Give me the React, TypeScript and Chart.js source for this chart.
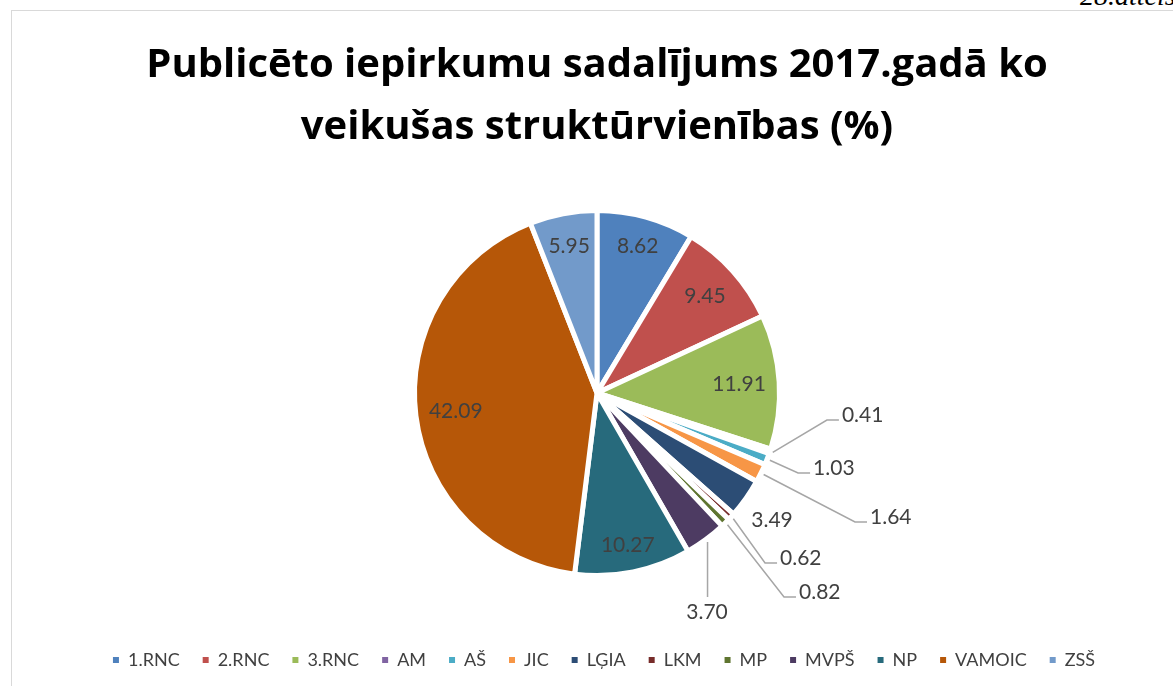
import React, { useEffect, useRef } from 'react';
import { Chart, registerables } from 'chart.js';

Chart.register(...registerables);

// ---- data ----
const categories = ['1.RNC', '2.RNC', '3.RNC', 'AM', 'AŠ', 'JIC', 'LĢIA', 'LKM', 'MP', 'MVPŠ', 'NP', 'VAMOIC', 'ZSŠ'];
const shares = [8.62, 9.45, 11.91, 0.41, 1.03, 1.64, 3.49, 0.62, 0.82, 3.7, 10.27, 42.09, 5.95];
const sliceColors = [
  '#4F81BD', '#C0504D', '#9BBB59', '#8064A2', '#4BACC6', '#F79646', '#2C4D75',
  '#772C2A', '#5F7530', '#4D3B62', '#276A7C', '#B65708', '#729ACA',
];
const titleLines = ['Publicēto iepirkumu sadalījums 2017.gadā ko', 'veikušas struktūrvienības (%)'];
const captionText = '28.attēls';

// ---- label layout (relative to each slice / pie radius) ----
type LabelLayout =
  | { mode: 'in'; f: number }
  | { mode: 'out'; dx: number; dy: number; align: CanvasTextAlign; leader: 'elbow' | 'vertical' | 'none' };

const labelLayout: LabelLayout[] = [
  { mode: 'in', f: 0.833 },
  { mode: 'in', f: 0.795 },
  { mode: 'in', f: 0.78 },
  { mode: 'out', dx: 1.342, dy: 0.121, align: 'left', leader: 'elbow' },
  { mode: 'out', dx: 1.184, dy: 0.411, align: 'left', leader: 'elbow' },
  { mode: 'out', dx: 1.496, dy: 0.679, align: 'left', leader: 'elbow' },
  { mode: 'out', dx: 0.959, dy: 0.696, align: 'center', leader: 'none' },
  { mode: 'out', dx: 1.003, dy: 0.904, align: 'left', leader: 'elbow' },
  { mode: 'out', dx: 1.107, dy: 1.09, align: 'left', leader: 'elbow' },
  { mode: 'out', dx: 0.603, dy: 1.2, align: 'center', leader: 'vertical' },
  { mode: 'in', f: 0.85 },
  { mode: 'in', f: 0.78 },
  { mode: 'in', f: 0.82 },
];

const sliceLabelsPlugin = {
  id: 'sliceLabels',
  afterDatasetsDraw(chart: any) {
    const ctx = chart.ctx as CanvasRenderingContext2D;
    const meta = chart.getDatasetMeta(0);
    const ds = chart.data.datasets[0];
    ctx.save();
    ctx.font = '21px Lato';
    ctx.fillStyle = '#404040';
    ctx.textBaseline = 'middle';
    meta.data.forEach((arc: any, i: number) => {
      const { x, y, startAngle, endAngle, outerRadius } = arc.getProps(
        ['x', 'y', 'startAngle', 'endAngle', 'outerRadius'],
        true
      );
      const mid = (startAngle + endAngle) / 2;
      const cos = Math.cos(mid);
      const sin = Math.sin(mid);
      const text = Number(ds.data[i]).toFixed(2);
      const lay = labelLayout[i];
      if (lay.mode === 'in') {
        ctx.textAlign = 'center';
        ctx.fillText(text, x + cos * outerRadius * lay.f, y + sin * outerRadius * lay.f);
        return;
      }
      const tx = x + lay.dx * outerRadius;
      const ty = y + lay.dy * outerRadius;
      const sx = x + cos * (outerRadius + 3);
      const sy = y + sin * (outerRadius + 3);
      ctx.strokeStyle = '#A6A6A6';
      ctx.lineWidth = 1.5;
      if (lay.leader === 'elbow') {
        ctx.beginPath();
        ctx.moveTo(sx, sy);
        ctx.lineTo(tx - 15, ty + 5);
        ctx.lineTo(tx - 3, ty + 5);
        ctx.stroke();
      } else if (lay.leader === 'vertical') {
        ctx.beginPath();
        ctx.moveTo(sx, sy);
        ctx.lineTo(sx, ty - 15);
        ctx.stroke();
      }
      ctx.textAlign = lay.align;
      ctx.fillText(text, tx, ty);
    });
    ctx.restore();
  },
};

const legendShiftPlugin = {
  id: 'legendShift',
  afterLayout(chart: any, _args: any, opts: any) {
    const lg = chart.legend;
    if (!lg) return;
    const dx = opts.dx || 0;
    const dy = opts.dy || 0;
    lg.left += dx;
    lg.right += dx;
    lg.top += dy;
    lg.bottom += dy;
  },
};

export default function App() {
  const canvasRef = useRef<HTMLCanvasElement | null>(null);

  useEffect(() => {
    if (!canvasRef.current) return;
    Chart.defaults.font.family = 'Lato';
    const baseGen = (Chart.overrides as any).doughnut.plugins.legend.labels.generateLabels;
    const chart = new Chart(canvasRef.current, {
      type: 'pie',
      data: {
        labels: categories,
        datasets: [
          {
            data: shares,
            backgroundColor: sliceColors,
            borderColor: '#ffffff',
            borderWidth: 5,
          },
        ],
      },
      options: {
        responsive: true,
        maintainAspectRatio: false,
        animation: false,
        events: [],
        layout: { padding: { left: 0, right: 3, top: 0, bottom: 57 } },
        plugins: {
          title: {
            display: true,
            text: titleLines,
            color: '#000000',
            font: { family: '"Open Sans"', size: 40, weight: 'bold', lineHeight: '62px' } as any,
            padding: { top: 24, bottom: 49 },
          },
          legend: {
            position: 'bottom',
            labels: {
              boxWidth: 6,
              boxHeight: 6,
              padding: 23,
              color: '#404040',
              font: { family: 'Lato', size: 18 },
              generateLabels: (c: any) =>
                baseGen(c).map((l: any) => ({ ...l, lineWidth: 0, strokeStyle: 'rgba(0,0,0,0)' })),
            },
          },
          tooltip: { enabled: false },
          legendShift: { dx: 7, dy: 50 },
        } as any,
      },
      plugins: [sliceLabelsPlugin, legendShiftPlugin],
    });
    return () => chart.destroy();
  }, []);

  return (
    <div style={{ position: 'fixed', inset: 0, overflow: 'hidden', background: '#ffffff' }}>
      <div
        style={{
          position: 'absolute',
          left: 1080,
          top: -18.5,
          fontFamily: '"Liberation Serif", serif',
          fontStyle: 'italic',
          fontSize: 28,
          lineHeight: '28px',
          color: '#000',
          whiteSpace: 'nowrap',
        }}
      >
        {captionText}
      </div>
      <div
        style={{
          position: 'absolute',
          left: 11,
          top: 10,
          width: 1400,
          height: 900,
          border: '1px solid #D9D9D9',
        }}
      />
      <div style={{ position: 'absolute', left: 12, top: 11, width: 1173, height: 675 }}>
        <canvas ref={canvasRef} />
      </div>
    </div>
  );
}
